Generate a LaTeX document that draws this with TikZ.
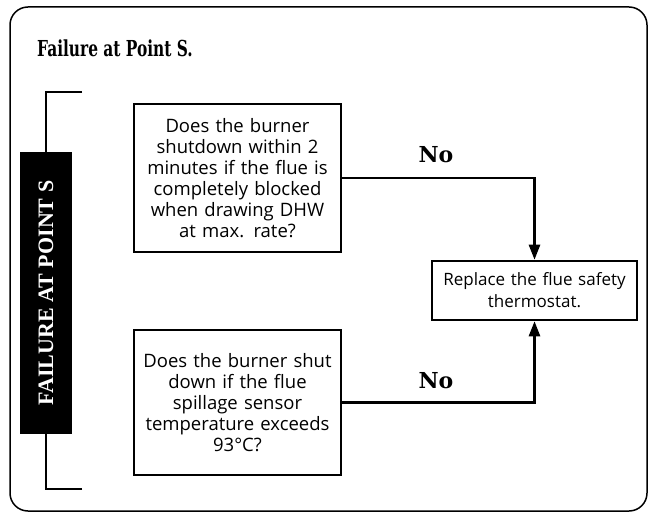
\documentclass[tikz,border=0pt]{standalone}
\usepackage{fontspec}
\setmainfont{Open Sans}
\newfontfamily\slabfont{DejaVu Serif}
\newfontfamily\capfont{Liberation Serif}
\usetikzlibrary{arrows.meta}
\begin{document}
\begin{tikzpicture}[x=1bp,y=-1bp,
  qbox/.style={draw=black,line width=2.5bp,fill=white,align=center,inner sep=2bp,
    font=\fontsize{18.5bp}{21bp}\selectfont},
  conn/.style={line width=2.5bp,-{Triangle[length=15bp,width=11bp]}},
  nolabel/.style={font=\slabfont\bfseries\fontsize{22bp}{24bp}\selectfont,anchor=base},
  bracket/.style={line width=2bp}]
\useasboundingbox (0,0) rectangle (655,515);
\draw[line width=1.5bp,rounded corners=18bp] (10,7) rectangle (647,511);
\node[anchor=base west,font=\slabfont\bfseries\fontsize{22bp}{24bp}\selectfont,inner sep=0pt] (title) at (37,57) {\scalebox{0.7}[1]{Failure at Point S.}};
% side label
\node[fill=black,rotate=90,minimum width=282bp,minimum height=52bp,inner sep=0pt,
  text=white,font=\capfont\bfseries\fontsize{22bp}{24bp}\selectfont] (lbl) at (46,293) {FAILURE AT POINT S};
\coordinate (bt) at (82,92);
\coordinate (bb) at (82,489);
\draw[bracket] (bt) -| (lbl.east);
\draw[bracket] (bb) -| (lbl.west);
% boxes
\node[qbox,minimum width=207bp,minimum height=148bp,text width=200bp] (q1) at (237.5,178) {Does the burner\\shutdown within 2\\minutes if the flue is\\completely blocked\\when drawing DHW\\at max. rate?};
\node[qbox,minimum width=207bp,minimum height=145bp,text width=200bp] (q2) at (237.5,402.5) {Does the burner shut\\down if the flue\\spillage sensor\\temperature exceeds\\93°C?};
\node[qbox,minimum width=205bp,minimum height=59bp,text width=200bp,
  font=\fontsize{17bp}{22bp}\selectfont] (r) at (534.5,290.5) {Replace the flue safety\\thermostat.};
% connectors
\draw[conn] (q1.east) -| (r.north);
\draw[conn] (q2.east) -| (r.south);
\node[nolabel] (n1) at (436,163) {No};
\node[nolabel] (n2) at (436,388) {No};
\end{tikzpicture}
\end{document}
